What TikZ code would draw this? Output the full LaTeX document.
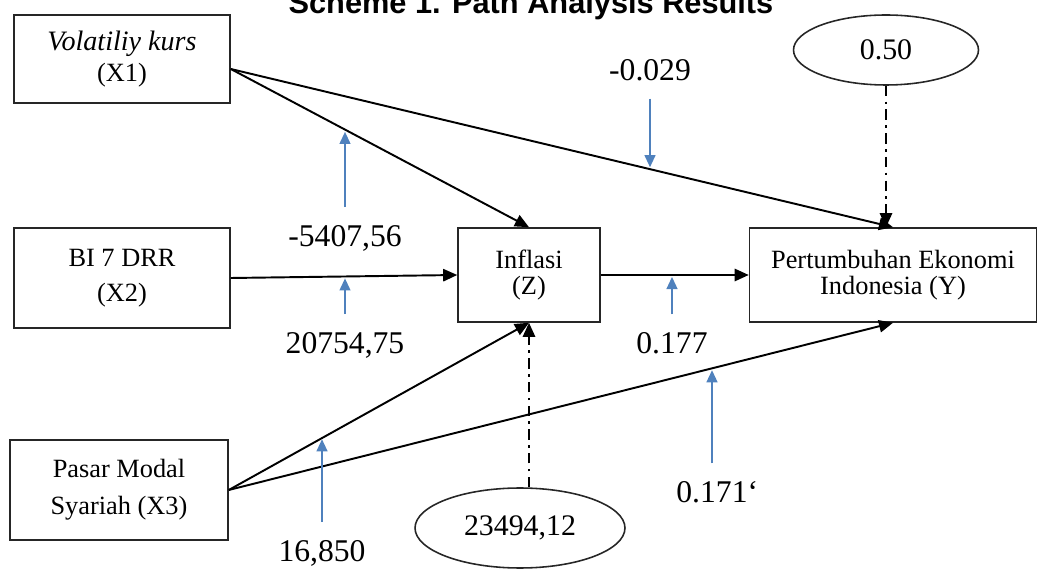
\documentclass[tikz,border=0pt]{standalone}
\usepackage{fontspec}
\setmainfont{Liberation Serif}
\newfontfamily\titlefont{Liberation Sans}
\usetikzlibrary{arrows.meta,positioning,shapes.geometric}
\definecolor{coefblue}{RGB}{79,129,189}
\begin{document}
\begin{tikzpicture}[x=0.02cm,y=-0.02cm,
   varbox/.style={draw=black!85,line width=0.9pt,align=center,inner sep=0,font=\fontsize{15}{18}\selectfont},
   errnode/.style={ellipse,draw=black!85,line width=0.9pt,inner sep=0,font=\fontsize{17}{20}\selectfont},
   coef/.style={inner xsep=0,inner ysep=10pt,font=\fontsize{18}{20}\selectfont},
   patharr/.style={-{Triangle[length=8pt,width=7pt]},line width=1.1pt},
   errarr/.style={patharr,dash pattern=on 6pt off 3pt on 1.5pt off 3pt},
   coefarr/.style={-{Triangle[length=7pt,width=6pt]},coefblue,line width=1.5pt,shorten >=1pt}
  ]
  \useasboundingbox (0,0) rectangle (1041,570);
  \node[anchor=base,font=\titlefont\bfseries\fontsize{17.5}{20}\selectfont] (title) at (531,14) {Scheme 1. Path Analysis Results};
  % variables
  \node[varbox,minimum width=4.32cm,minimum height=1.76cm] (x1) at (122,59) {{\fontsize{16}{18}\selectfont\textit{Volatiliy kurs}}\\(X1)};
  \node[varbox,minimum width=4.32cm,minimum height=2cm] (x2) at (122,278) {BI 7 DRR\\[2pt](X2)};
  \node[varbox,minimum width=4.36cm,minimum height=2cm] (x3) at (119,490) {Pasar Modal\\[3pt]Syariah (X3)};
  \node[varbox,minimum width=2.84cm,minimum height=1.88cm] (z) at (529,275) {Inflasi\\[-3pt](Z)};
  \node[varbox,minimum width=5.74cm,minimum height=1.88cm] (y) at (893,275) {Pertumbuhan Ekonomi\\[-3pt]Indonesia (Y)};
  \node[errnode,minimum width=3.7cm,minimum height=1.4cm] (ey) at (886,50) {0.50};
  \node[errnode,minimum width=4.2cm,minimum height=1.6cm] (ez) at (520,528) {23494,12};
  % paths
  \draw[patharr] ([yshift=-0.2cm]x1.east) -- coordinate[pos=0.385] (p1) (z.north);
  \draw[patharr] ([yshift=-0.2cm]x1.east) -- coordinate[pos=0.633] (p2) (y.north);
  \draw[patharr] (x2.east) -- coordinate[pos=0.52] (p3) (z.west);
  \draw[patharr] (z.east) -- coordinate[pos=0.47] (p4) (y.west);
  \draw[patharr] (x3.east) -- coordinate[pos=0.315] (p5) (z.south);
  \draw[patharr] (x3.east) -- coordinate[pos=0.728] (p6) (y.south);
  \draw[errarr] (ey.south) -- (ey.south |- y.north);
  \draw[errarr] (ez.north -| z.south) -- (z.south);
  % coefficients
  \node[coef] (c1) at (345,238) {-5407,56};
  \node[coef] (c2) at (345,345) {20754,75};
  \node[coef] (c3) at (650,70) {-0.029};
  \node[coef] (c4) at (672,343) {0.177};
  \node[coef] (c5) at (322,553) {16,850};
  \node[coef] (c6) at (712,492) {0.171\rlap{`}};
  \draw[coefarr] (c1) -- (c1 |- p1);
  \draw[coefarr] (c2) -- (c2 |- p3);
  \draw[coefarr] (c3) -- (c3 |- p2);
  \draw[coefarr] (c4) -- (c4 |- p4);
  \draw[coefarr] (c5) -- (c5 |- p5);
  \draw[coefarr] (c6) -- (c6 |- p6);
\end{tikzpicture}
\end{document}
